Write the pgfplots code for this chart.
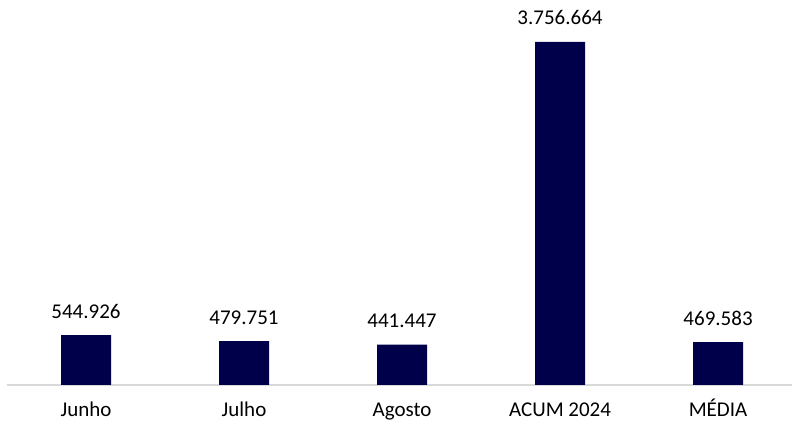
\documentclass[border=0pt]{standalone}
\usepackage{pgfplots}
\pgfplotsset{compat=1.18}
\usepackage{fontspec}
\setmainfont{Carlito}
\definecolor{navy}{RGB}{0,0,74}
\definecolor{axgray}{RGB}{217,217,217}
\begin{document}
\fontsize{21bp}{25bp}\selectfont
\begin{tikzpicture}
\useasboundingbox (0,0) rectangle (792bp,422bp);
\begin{axis}[
  at={(7bp,37bp)}, anchor=south west,
  scale only axis,
  width=785bp, height=370bp,
  xmin=-0.5, xmax=4.468,
  ymin=0, ymax=4052404,
  axis x line*=bottom,
  axis y line=none,
  axis line style={axgray, line width=1.2bp, -},
  xtick={0,1,2,3,4},
  xticklabels={Junho,Julho,Agosto,ACUM 2024,MÉDIA},
  major tick length=0pt,
  xticklabel style={anchor=base, yshift=-32bp, inner sep=0pt, text=black},
  ytick=\empty,
  clip=false,
  /pgf/number format/assume math mode=true,
  nodes near coords={\pgfmathprintnumber[fixed,precision=0,1000 sep={.}]{\pgfplotspointmeta}},
  nodes near coords style={anchor=base, yshift=17bp, inner sep=0pt, text=black,
    /pgf/number format/assume math mode=true},
]
\addplot[ybar, bar width=50bp, fill=navy, draw=none] coordinates {
  (0,544926) (1,479751) (2,441447) (3,3756664) (4,469583)
};
\end{axis}
\end{tikzpicture}
\end{document}
